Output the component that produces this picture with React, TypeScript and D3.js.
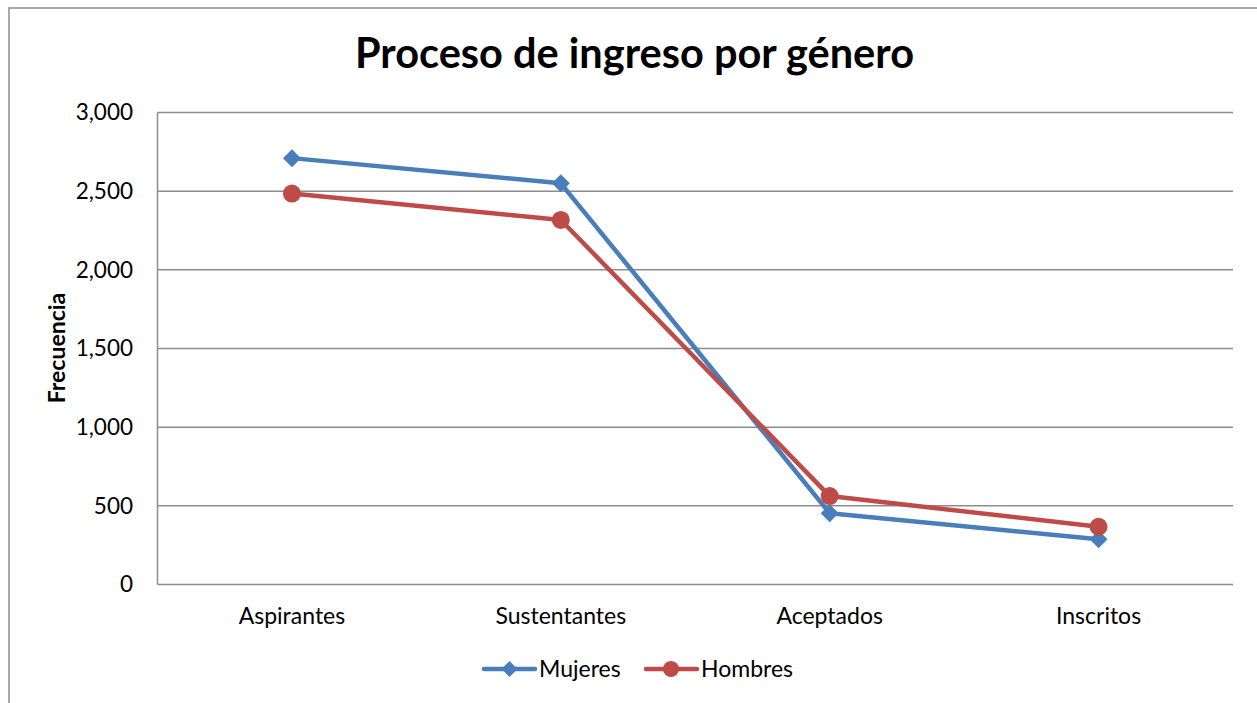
import React from "react";
import * as d3 from "d3";

const categories = ["Aspirantes", "Sustentantes", "Aceptados", "Inscritos"];
const mujeres = [2710, 2550, 453, 288];
const hombres = [2485, 2317, 562, 367];
const yTicks = [0, 500, 1000, 1500, 2000, 2500, 3000];
const seriesNames = ["Mujeres", "Hombres"];

const W = 1257;
const H = 703;
const FONT = "Lato, 'Open Sans', sans-serif";
const BLUE = "#4A7EBB";
const RED = "#BE4B48";
const GRID = "#8c8c8c";

export default function App() {
  const left = 157.5, right = 1233, top = 112.5, bottom = 584.5;
  const x = d3.scaleBand<string>().domain(categories).range([left, right]);
  const y = d3.scaleLinear().domain([0, 3000]).range([bottom, top]);
  const cx = (c: string) => (x(c) as number) + x.bandwidth() / 2;
  const line = d3.line<number>().x((_, i) => cx(categories[i])).y((d) => y(d));
  const fmt = d3.format(",");
  const diamond = (px: number, py: number, r: number) =>
    `M${px},${py - r}L${px + r},${py}L${px},${py + r}L${px - r},${py}Z`;

  return (
    <svg width={W} height={H} style={{ position: "absolute", left: 0, top: 0 }} fontFamily={FONT}>
      <rect x={0} y={0} width={W} height={H} fill="#fff" />
      <rect x={9} y={8} width={W + 20} height={H + 20} fill="none" stroke={GRID} strokeWidth={1.5} />
      <text x={634.5} y={68} textAnchor="middle" fontSize={41.5} fontWeight={700} fill="#000">
        Proceso de ingreso por género
      </text>
      {yTicks.map((t) => (
        <g key={t}>
          <line x1={left} x2={right} y1={y(t)} y2={y(t)} stroke={GRID} strokeWidth={1.5} />
          <text x={133} y={y(t)} dy="0.35em" textAnchor="end" fontSize={22.5} fill="#000">
            {fmt(t)}
          </text>
        </g>
      ))}
      <line x1={left} x2={left} y1={top} y2={bottom} stroke={GRID} strokeWidth={1.5} />
      {categories.map((c) => (
        <text key={c} x={cx(c)} y={616} dy="0.35em" textAnchor="middle" fontSize={23} fill="#000">
          {c}
        </text>
      ))}
      <text
        transform={`translate(57,348) rotate(-90)`}
        textAnchor="middle"
        dy="0.35em"
        fontSize={23}
        fontWeight={700}
        fill="#000"
      >
        Frecuencia
      </text>
      <path d={line(mujeres) || ""} fill="none" stroke={BLUE} strokeWidth={4.5} strokeLinejoin="round" />
      <path d={line(hombres) || ""} fill="none" stroke={RED} strokeWidth={4.5} strokeLinejoin="round" />
      {mujeres.map((v, i) => (
        <path key={"m" + i} d={diamond(cx(categories[i]), y(v), 9)} fill={BLUE} />
      ))}
      {hombres.map((v, i) => (
        <circle key={"h" + i} cx={cx(categories[i])} cy={y(v)} r={9} fill={RED} />
      ))}
      <g>
        <line x1={484} x2={535} y1={669} y2={669} stroke={BLUE} strokeWidth={4.5} strokeLinecap="round" />
        <path d={diamond(509.5, 669, 8)} fill={BLUE} />
        <text x={539} y={669} dy="0.35em" fontSize={23} fill="#000">{seriesNames[0]}</text>
        <line x1={646} x2={697} y1={669} y2={669} stroke={RED} strokeWidth={4.5} strokeLinecap="round" />
        <circle cx={671} cy={669} r={8} fill={RED} />
        <text x={701} y={669} dy="0.35em" fontSize={23} fill="#000">{seriesNames[1]}</text>
      </g>
    </svg>
  );
}
